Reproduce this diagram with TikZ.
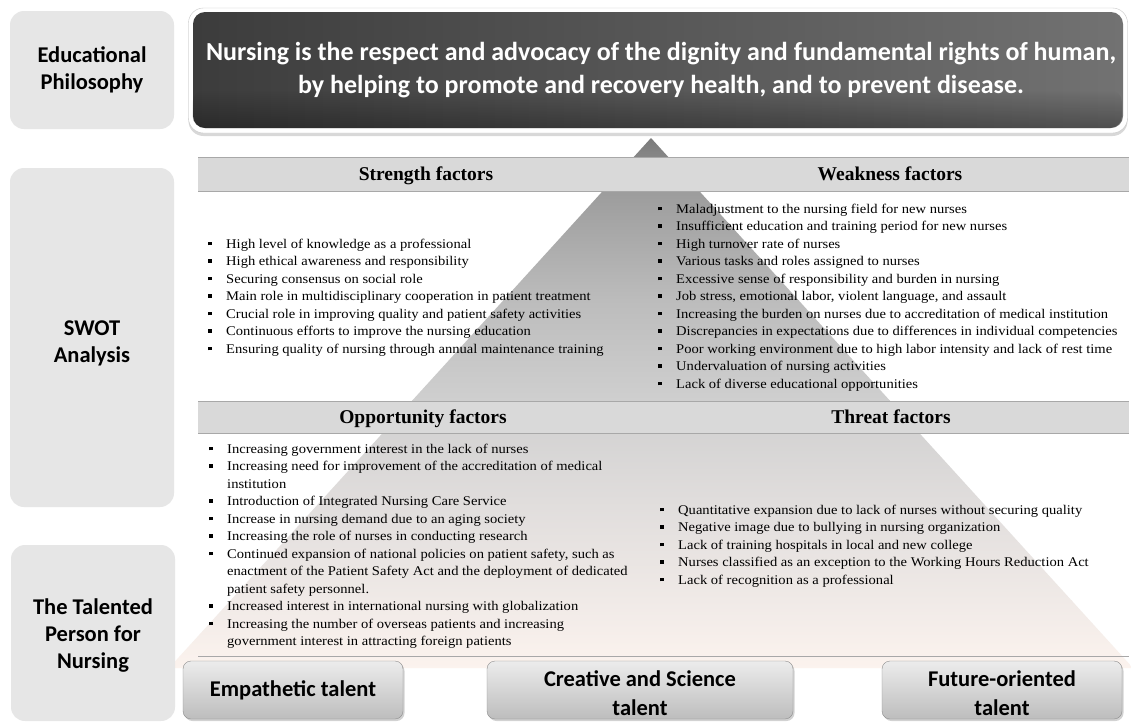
\documentclass[tikz,border=0pt]{standalone}
\usepackage{fontspec}
\setmainfont{Liberation Serif}
\newfontfamily\listfont[FakeStretch=1.095]{Liberation Serif}
\newfontfamily\labelfont{Carlito}
\usetikzlibrary{shadows,fadings}

\definecolor{labelgray}{HTML}{E6E6E6}
\definecolor{headgray}{HTML}{D9D9D9}
\definecolor{headrule}{HTML}{A8A8A8}
\definecolor{bannerleft}{HTML}{3C3C3C}
\definecolor{bannerright}{HTML}{727272}
\definecolor{pyrA}{HTML}{7A7A7A}
\definecolor{pyrB}{HTML}{9C9C9C}
\definecolor{pyrC}{HTML}{BCBCBC}
\definecolor{pyrD}{HTML}{CFCFCF}
\definecolor{pyrE}{HTML}{E0DDDC}
\definecolor{pyrF}{HTML}{F0EAE7}
\definecolor{pyrG}{HTML}{FCF3EE}
\definecolor{talenttop}{HTML}{ECECEC}
\definecolor{talentbot}{HTML}{BDBDBD}
\definecolor{talentedge}{HTML}{8C8C8C}

% square bullet followed by the hanging indent of the item text
\newcommand\itm{\makebox[18pt][l]{\rule[2.6pt]{3.8pt}{3.8pt}}}
\newcommand\cnt{\hspace*{18pt}}

\begin{document}
\begin{tikzpicture}[x=1pt,y=-1pt,
  labelbox/.style={fill=labelgray, rounded corners=14pt, align=center,
    font=\labelfont\bfseries\fontsize{22.5}{26.5}\selectfont, inner sep=0pt},
  labeltext/.style={align=center, inner sep=0pt, font=\labelfont\bfseries\fontsize{22.5}{27}\selectfont},
  headtext/.style={anchor=base, inner sep=0pt, font=\bfseries\fontsize{19.5}{22}\selectfont},
  itemlist/.style={anchor=base west, inner sep=0pt,
    font=\listfont\fontsize{13.3}{17.5}\selectfont},
  talent/.style={draw=talentedge, top color=talenttop, bottom color=talentbot,
    rounded corners=8pt, inner sep=0pt, minimum height=58pt,
    drop shadow={opacity=0.35, shadow xshift=1.5pt, shadow yshift=-2pt}},
  talenttext/.style={align=center, inner sep=0pt, font=\labelfont\bfseries\fontsize{22.5}{29}\selectfont},
]
\useasboundingbox (0,0) rectangle (1131,721);
\fill[white] (0,0) rectangle (1131,721);

% shaded pyramid behind the SWOT table
\begin{scope}
  \clip (651,138) -- (1133,668) -- (169,668) -- cycle;
  \shade[top color=pyrA, bottom color=pyrB] (150,137) rectangle (1140,190.5);
  \shade[top color=pyrB, bottom color=pyrC] (150,190) rectangle (1140,300.5);
  \shade[top color=pyrC, bottom color=pyrD] (150,300) rectangle (1140,400.5);
  \shade[top color=pyrD, bottom color=pyrE] (150,400) rectangle (1140,500.5);
  \shade[top color=pyrE, bottom color=pyrF] (150,500) rectangle (1140,600.5);
  \shade[top color=pyrF, bottom color=pyrG] (150,600) rectangle (1140,669);
\end{scope}

% left-hand row labels
\node[labelbox, minimum width=164pt, minimum height=118pt] (edu) at (92,70) {Educational\\Philosophy};
\node[labelbox, minimum width=164pt, minimum height=339pt] (swot) at (92,337.5) {};
\node[labeltext] (swott) at (92,343) {SWOT\\Analysis};
\node[labelbox, minimum width=164pt, minimum height=176pt] (tal) at (93,633) {};
\node[labeltext] (talt) at (93,635) {The Talented\\Person for\\Nursing};

% philosophy banner
\node[draw=black!22, fill=white, rounded corners=15pt, minimum width=939pt, minimum height=125pt,
  drop shadow={opacity=0.3, shadow xshift=0pt, shadow yshift=-3pt}] (frame) at (658,70.5) {};
\node[left color=bannerleft, right color=bannerright, rounded corners=12pt,
  minimum width=930pt, minimum height=116pt, inner sep=0pt] (phil) at (658,70) {};
\fill[black, opacity=0.3, path fading=north, rounded corners=12pt] (193,90) rectangle (1123,128);
\node[align=center, text=white, inner sep=0pt,
  font=\labelfont\bfseries\fontsize{26}{33}\selectfont] (philt) at (661,70)
  {Nursing is the respect and advocacy of the dignity and fundamental rights of human,\\
   by helping to promote and recovery health, and to prevent disease.};

% header bands
\fill[headgray] (198,157) rectangle (1129,191);
\draw[headrule] (198,157) -- (1129,157) (198,191) -- (1129,191);
\fill[headgray] (198,401) rectangle (1129,433);
\draw[headrule] (198,401) -- (1129,401) (198,433) -- (1129,433);
\draw[headrule] (198,656) -- (1129,656);

\node[headtext] (sh) at (426,180.5) {Strength factors};
\node[headtext] (wh) at (890,180.5) {Weakness factors};
\node[headtext] (oh) at (423,423.5) {Opportunity factors};
\node[headtext] (th) at (891,423.5) {Threat factors};

% factor lists
\node[itemlist] (sl) at (208,248) {\begin{tabular}[t]{@{}l@{}}
\itm High level of knowledge as a professional\\
\itm High ethical awareness and responsibility\\
\itm Securing consensus on social role\\
\itm Main role in multidisciplinary cooperation in patient treatment\\
\itm Crucial role in improving quality and patient safety activities\\
\itm Continuous efforts to improve the nursing education\\
\itm Ensuring quality of nursing through annual maintenance training
\end{tabular}};

\node[itemlist] (wl) at (658,213) {\begin{tabular}[t]{@{}l@{}}
\itm Maladjustment to the nursing field for new nurses\\
\itm Insufficient education and training period for new nurses\\
\itm High turnover rate of nurses\\
\itm Various tasks and roles assigned to nurses\\
\itm Excessive sense of responsibility and burden in nursing\\
\itm Job stress, emotional labor, violent language, and assault\\
\itm Increasing the burden on nurses due to accreditation of medical institution\\
\itm Discrepancies in expectations due to differences in individual competencies\\
\itm Poor working environment due to high labor intensity and lack of rest time\\
\itm Undervaluation of nursing activities\\
\itm Lack of diverse educational opportunities
\end{tabular}};

\node[itemlist] (ol) at (209,453) {\begin{tabular}[t]{@{}l@{}}
\itm Increasing government interest in the lack of nurses\\
\itm Increasing need for improvement of the accreditation of medical\\
\cnt institution\\
\itm Introduction of Integrated Nursing Care Service\\
\itm Increase in nursing demand due to an aging society\\
\itm Increasing the role of nurses in conducting research\\
\itm Continued expansion of national policies on patient safety, such as\\
\cnt enactment of the Patient Safety Act and the deployment of dedicated\\
\cnt patient safety personnel.\\
\itm Increased interest in international nursing with globalization\\
\itm Increasing the number of overseas patients and increasing\\
\cnt government interest in attracting foreign patients
\end{tabular}};

\node[itemlist] (tl) at (660,514) {\begin{tabular}[t]{@{}l@{}}
\itm Quantitative expansion due to lack of nurses without securing quality\\
\itm Negative image due to bullying in nursing organization\\
\itm Lack of training hospitals in local and new college\\
\itm Nurses classified as an exception to the Working Hours Reduction Act\\
\itm Lack of recognition as a professional
\end{tabular}};

% talent boxes
\node[talent, minimum width=220pt] (emp) at (293,690) {};
\node[talenttext] (empt) at (293,690) {Empathetic talent};
\node[talent, minimum width=306pt] (cre) at (640,690) {};
\node[talenttext] (cret) at (640,693) {Creative and Science\\talent};
\node[talent, minimum width=240pt] (fut) at (1002,690) {};
\node[talenttext] (futt) at (1002,693) {Future-oriented\\talent};
\end{tikzpicture}
\end{document}
